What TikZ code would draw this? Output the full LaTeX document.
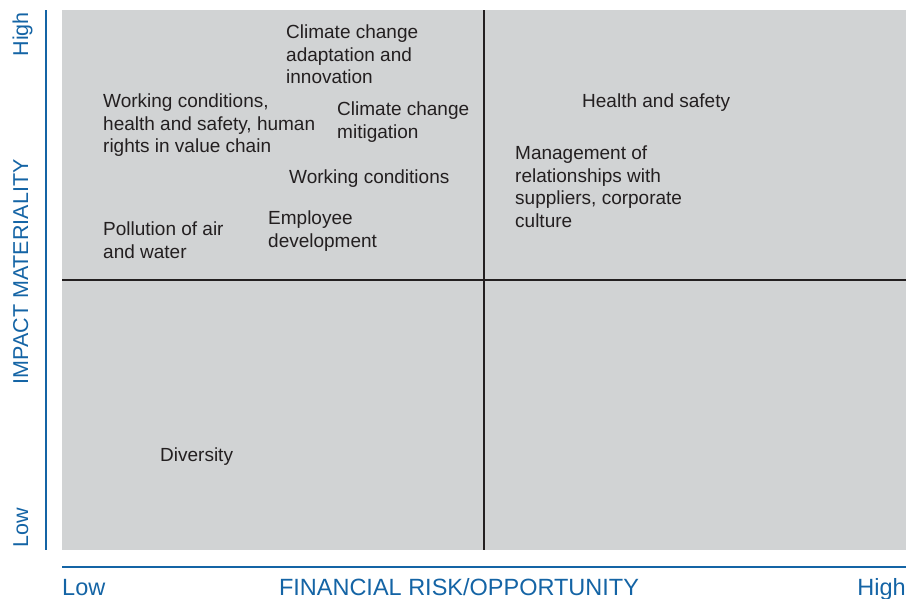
\documentclass[tikz,border=0pt]{standalone}
\usepackage{fontspec}
\setmainfont{Liberation Sans}
\definecolor{axisblue}{RGB}{20,100,165}
\definecolor{panelgray}{RGB}{209,211,212}
\definecolor{ink}{RGB}{35,31,32}

\begin{document}
\begin{tikzpicture}[x=1pt,y=-1pt,
    topic/.style={anchor=north west,align=left,inner sep=0pt,text=ink,
      font=\fontsize{19}{22.7}\selectfont},
    axislabel/.style={inner sep=0pt,text=axisblue},
    yaxis/.style={axislabel,rotate=90,font=\fontsize{21.5}{24}\selectfont},
    xaxis/.style={axislabel,font=\fontsize{23.5}{26}\selectfont}]
          \useasboundingbox (0,0) rectangle (907,598);
          % quadrants
          \fill[panelgray] (62,10) rectangle (906,550);
          \coordinate (midT) at (484,10);
          \coordinate (midB) at (484,550);
          \coordinate (midL) at (62,280);
          \coordinate (midR) at (906,280);
          \draw[ink,line width=1.5pt] (midT) -- (midB);
          \draw[ink,line width=1.5pt] (midL) -- (midR);
          % axes
          \draw[axisblue,line width=2pt] (46,10) -- (46,550);
          \draw[axisblue,line width=2pt] (62,567) -- (906,567);
          \node[yaxis,anchor=base west] (yLow) at (28,548) {Low};
          \node[yaxis,anchor=base east] (yHigh) at (28,12) {High};
          \node[yaxis,anchor=base] (yName) at (28,272) {IMPACT MATERIALITY};
          \node[xaxis,anchor=base west] (xLow) at (62,595) {Low};
          \node[xaxis,anchor=base east] (xHigh) at (906,595) {High};
          \node[xaxis,anchor=base] (xName) at (459,595) {FINANCIAL RISK/OPPORTUNITY};
          % topics (top of first line)
          \node[topic] (adapt) at (286,24.6) {Climate change\\adaptation and\\innovation};
          \node[topic] (chain) at (103,93.6) {Working conditions,\\health and safety, human\\rights in value chain};
          \node[topic] (mitig) at (337,101.6) {Climate change\\mitigation};
          \node[topic] (work) at (289,169.6) {Working conditions};
          \node[topic] (staff) at (268,210.6) {Employee\\development};
          \node[topic] (pollut) at (103,221.6) {Pollution of air\\and water};
          \node[topic] (divers) at (160,447.6) {Diversity};
          \node[topic] (health) at (582,93.1) {Health and safety};
          \node[topic] (suppl) at (515,145.6) {Management of\\relationships with\\suppliers, corporate\\culture};
        \end{tikzpicture}
\end{document}
